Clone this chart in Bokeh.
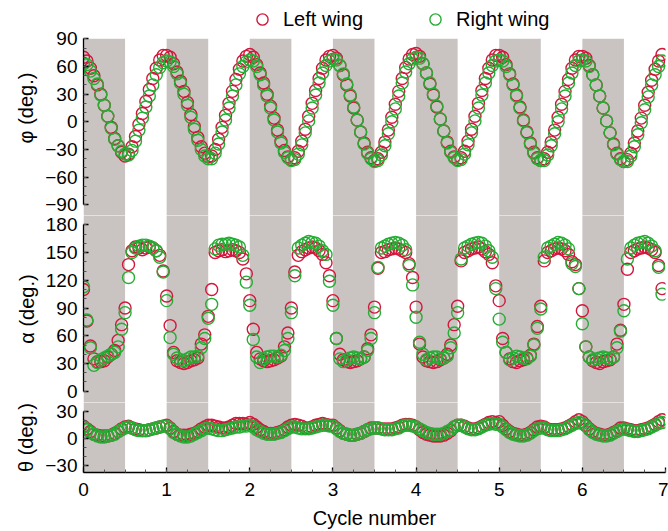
from bokeh.plotting import figure
from bokeh.layouts import column
from bokeh.models import SingleIntervalTicker, Legend, LegendItem, Range1d
from bokeh.embed import file_html
from bokeh.resources import INLINE

# ---------------- data ----------------
samples_per_cycle = 24
n_cycles = 7
cycle = [k / samples_per_cycle for k in range(samples_per_cycle * n_cycles)]
stroke_starts = [0, 1, 2, 3, 4, 5, 6]
stroke_ends = [0.5, 1.5, 2.5, 3.5, 4.5, 5.5, 6.5]
x_ticks_range = (0, 7)
phi_bounds = (-90, 90)
alpha_bounds = (0, 180)
theta_bounds = (-30, 30)

phi_left = [
    70, 66, 58, 50, 40, 30, 18, 6, -6, -18, -26, -33, -37, -35, -27, -16, -3, 9, 22, 35, 47, 58, 67, 72,
    72, 70, 63, 54, 44, 33, 21, 8, -5, -17, -27, -34, -38, -37, -30, -19, -6, 7, 20, 33, 46, 57, 66, 71,
    73, 70, 62, 53, 42, 30, 17, 4, -9, -21, -31, -38, -41, -39, -32, -21, -8, 6, 20, 34, 47, 58, 67, 71,
    72, 69, 61, 51, 40, 28, 15, 2, -11, -23, -33, -39, -42, -40, -33, -22, -9, 5, 19, 33, 47, 59, 68, 73,
    74, 71, 63, 53, 41, 29, 16, 3, -10, -22, -32, -38, -41, -39, -32, -21, -8, 6, 20, 34, 47, 58, 67, 72,
    72, 70, 62, 52, 41, 29, 16, 2, -11, -23, -33, -39, -42, -40, -33, -22, -9, 5, 19, 33, 46, 58, 67, 71,
    71, 69, 61, 51, 40, 28, 15, 1, -12, -24, -34, -40, -43, -41, -34, -23, -10, 4, 18, 32, 45, 57, 66, 73,
]
phi_right = [
    63, 62, 55, 47, 41, 29, 18, 6, -7, -19, -26, -32, -35, -36, -31, -21, -9, 4, 16, 28, 40, 51, 59, 64,
    66, 65, 60, 52, 42, 30, 18, 5, -8, -20, -30, -37, -40, -40, -34, -24, -11, 2, 15, 28, 40, 52, 60, 65,
    67, 66, 60, 51, 40, 28, 15, 2, -11, -23, -33, -39, -42, -41, -35, -25, -12, 1, 15, 29, 42, 53, 61, 66,
    68, 67, 61, 52, 41, 29, 16, 2, -11, -24, -34, -40, -43, -42, -36, -26, -13, 0, 14, 28, 42, 54, 63, 68,
    70, 69, 63, 53, 42, 30, 17, 3, -10, -23, -33, -39, -42, -41, -35, -25, -12, 1, 15, 29, 42, 53, 61, 66,
    67, 66, 60, 51, 40, 28, 15, 1, -12, -24, -34, -40, -42, -42, -36, -26, -13, 0, 14, 28, 42, 53, 61, 66,
    67, 66, 60, 51, 40, 28, 15, 1, -12, -25, -35, -41, -43, -43, -37, -27, -14, -1, 13, 27, 40, 51, 60, 66,
]
alpha_left = [
    110, 76, 49, 35, 32, 32, 33, 37, 40, 44, 55, 72, 90, 137, 152, 156, 155, 153, 155, 156, 155, 152, 147, 130,
    103, 71, 42, 33, 31, 30, 31, 33, 34, 36, 51, 61, 81, 110, 150, 152, 153, 151, 152, 153, 152, 150, 143, 127,
    98, 67, 42, 35, 33, 32, 33, 34, 36, 38, 48, 63, 90, 129, 147, 151, 153, 155, 156, 155, 152, 148, 139, 125,
    98, 57, 40, 34, 32, 31, 32, 33, 35, 37, 46, 61, 91, 133, 150, 151, 153, 154, 155, 154, 152, 150, 138, 123,
    91, 51, 37, 33, 32, 31, 32, 34, 36, 40, 50, 72, 92, 141, 150, 152, 154, 155, 156, 154, 151, 148, 139, 114,
    98, 57, 42, 35, 32, 31, 33, 34, 36, 39, 51, 70, 92, 141, 150, 152, 154, 155, 154, 152, 148, 140, 137, 111,
    87, 48, 37, 33, 31, 30, 32, 33, 34, 37, 51, 66, 94, 132, 150, 152, 154, 155, 156, 155, 153, 150, 136, 111,
]
alpha_right = [
    113, 77, 47, 28, 31, 34, 36, 38, 40, 42, 48, 67, 85, 123, 150, 155, 157, 158, 158, 157, 155, 152, 145, 129,
    98, 58, 40, 36, 34, 33, 35, 37, 37, 38, 47, 57, 79, 94, 154, 158, 159, 159, 160, 159, 158, 156, 147, 118,
    93, 56, 37, 31, 35, 37, 38, 38, 37, 39, 44, 57, 85, 125, 155, 158, 160, 162, 161, 160, 157, 152, 148, 119,
    93, 57, 35, 32, 34, 36, 37, 36, 35, 37, 44, 57, 85, 134, 155, 157, 159, 160, 161, 160, 158, 153, 136, 115,
    80, 53, 40, 34, 36, 37, 37, 35, 36, 38, 47, 63, 85, 143, 155, 157, 159, 160, 161, 160, 157, 152, 145, 111,
    78, 53, 42, 34, 36, 38, 37, 36, 35, 38, 50, 68, 89, 145, 155, 157, 159, 161, 160, 158, 154, 138, 135, 111,
    73, 48, 37, 34, 35, 36, 37, 36, 35, 37, 47, 65, 87, 143, 155, 158, 160, 161, 162, 160, 157, 152, 134, 105,
]
theta_left = [
    14, 11, 8, 5, 4, 3, 3, 3, 4, 6, 8, 11, 13, 14, 12, 11, 10, 9, 9, 10, 11, 12, 13, 14,
    15, 12, 8, 5, 4, 4, 4, 5, 6, 8, 11, 13, 15, 15, 14, 13, 12, 12, 13, 15, 17, 17, 17, 16,
    18, 16, 13, 10, 8, 6, 6, 6, 7, 8, 10, 13, 15, 16, 15, 14, 12, 12, 13, 15, 16, 17, 16, 15,
    15, 12, 9, 6, 5, 4, 4, 5, 6, 8, 10, 12, 12, 12, 11, 11, 11, 11, 12, 13, 15, 16, 16, 15,
    13, 10, 7, 5, 4, 3, 3, 3, 4, 6, 9, 13, 15, 15, 14, 12, 11, 11, 12, 14, 16, 18, 19, 18,
    19, 15, 11, 8, 6, 5, 4, 4, 5, 7, 10, 13, 14, 13, 11, 10, 10, 10, 11, 12, 14, 16, 19, 21,
    19, 15, 11, 8, 6, 5, 4, 4, 5, 7, 9, 12, 12, 11, 10, 9, 9, 10, 11, 12, 14, 16, 19, 21,
]
theta_right = [
    13, 10, 7, 5, 3, 2, 2, 3, 4, 5, 8, 10, 12, 13, 12, 10, 9, 9, 9, 10, 11, 12, 13, 14,
    14, 11, 7, 5, 3, 2, 2, 3, 5, 7, 9, 11, 12, 11, 10, 9, 9, 10, 11, 12, 13, 13, 14, 14,
    15, 13, 10, 8, 6, 5, 5, 5, 6, 7, 9, 11, 13, 13, 12, 11, 11, 11, 12, 13, 14, 15, 15, 14,
    14, 11, 8, 6, 5, 4, 4, 5, 6, 8, 10, 11, 12, 12, 11, 10, 10, 10, 11, 12, 14, 15, 15, 14,
    13, 11, 9, 7, 6, 5, 5, 5, 6, 8, 10, 13, 15, 15, 13, 11, 10, 10, 11, 13, 15, 16, 17, 16,
    16, 13, 10, 7, 5, 4, 3, 3, 4, 6, 9, 11, 12, 12, 10, 9, 9, 9, 10, 11, 13, 15, 17, 18,
    17, 14, 10, 7, 5, 4, 3, 3, 4, 6, 8, 10, 11, 10, 9, 8, 8, 9, 10, 11, 13, 15, 17, 18,
]
series_labels = ["Left wing", "Right wing"]
panel_labels = ["\u03c6 (deg.)", "\u03b1 (deg.)", "\u03b8 (deg.)"]
x_label = "Cycle number"

# ---------------- style ----------------
RED = "#d3173c"
GREEN = "#25ad34"
BAND = "#c9c4c2"
FONT = "Liberation Sans"
TICK_FS = "19px"
LABEL_FS = "20px"
W = 668
LEFT = 83
RIGHT = 3


def style_axis(ax, label, tick_standoff, label_standoff):
    ax.axis_label = label
    ax.axis_label_text_font = FONT
    ax.axis_label_text_font_size = LABEL_FS
    ax.axis_label_text_font_style = "normal"
    ax.axis_label_text_color = "black"
    ax.axis_label_standoff = label_standoff
    ax.major_label_text_font = FONT
    ax.major_label_text_font_size = TICK_FS
    ax.major_label_text_color = "black"
    ax.major_label_standoff = tick_standoff
    ax.major_tick_in = 5
    ax.major_tick_out = 0
    ax.minor_tick_in = 3
    ax.minor_tick_out = 0
    ax.axis_line_width = 1.3
    ax.major_tick_line_width = 1.3
    ax.minor_tick_line_color = "#555555"


def make_panel(height, yr, bounds, band_top, ylabel, bottom=0, show_x=False):
    p = figure(width=W, height=height, x_range=Range1d(*x_ticks_range), y_range=Range1d(*yr),
               output_backend="svg", toolbar_location=None,
               min_border_left=LEFT, min_border_right=RIGHT,
               min_border_top=0, min_border_bottom=bottom)
    p.outline_line_color = None
    p.grid.visible = False
    span = yr[1] - yr[0]
    p.quad(left=stroke_starts, right=stroke_ends, bottom=yr[0] - span, top=band_top,
           fill_color=BAND, line_color=None, level="underlay")
    yax = p.yaxis[0]
    yax.ticker = SingleIntervalTicker(interval=30, num_minor_ticks=3)
    yax.bounds = bounds
    style_axis(yax, ylabel, 6, 5)
    xax = p.xaxis[0]
    if show_x:
        xax.ticker = SingleIntervalTicker(interval=1, num_minor_ticks=4)
        style_axis(xax, x_label, 10, 8)
    else:
        xax.visible = False
    return p


phi_range = (-101.59, 131.53)
alpha_range = (-12.2, 190.1)
theta_range = (-37.4, 40.2)

p_phi = make_panel(215, phi_range, phi_bounds, phi_bounds[1], panel_labels[0])
p_alpha = make_panel(187, alpha_range, alpha_bounds, alpha_range[1] + 400, panel_labels[1])
p_theta = make_panel(129, theta_range, (theta_range[0], theta_bounds[1]), theta_range[1] + 200,
                     panel_labels[2], bottom=57, show_x=True)

legend_renderers = []
for p, left, right in [(p_phi, phi_left, phi_right), (p_alpha, alpha_left, alpha_right),
                       (p_theta, theta_left, theta_right)]:
    r1 = p.scatter(cycle, left, marker="circle", size=12, fill_color=None,
                   line_color=RED, line_width=1.4)
    r2 = p.scatter(cycle, right, marker="circle", size=12, fill_color=None,
                   line_color=GREEN, line_width=1.4)
    legend_renderers.append((r1, r2))

legend = Legend(items=[LegendItem(label=series_labels[0], renderers=[legend_renderers[0][0]]),
                       LegendItem(label=series_labels[1], renderers=[legend_renderers[0][1]])],
                orientation="horizontal", location=(165, 182),
                glyph_width=28, glyph_height=28, label_standoff=7, spacing=58,
                padding=0, margin=0, border_line_color=None, background_fill_alpha=0,
                label_text_font=FONT, label_text_font_size=LABEL_FS, label_text_color="black")
p_phi.add_layout(legend, "center")

layout = column(p_phi, p_alpha, p_theta, spacing=0)
open("out.html", "w").write(file_html(layout, INLINE))
